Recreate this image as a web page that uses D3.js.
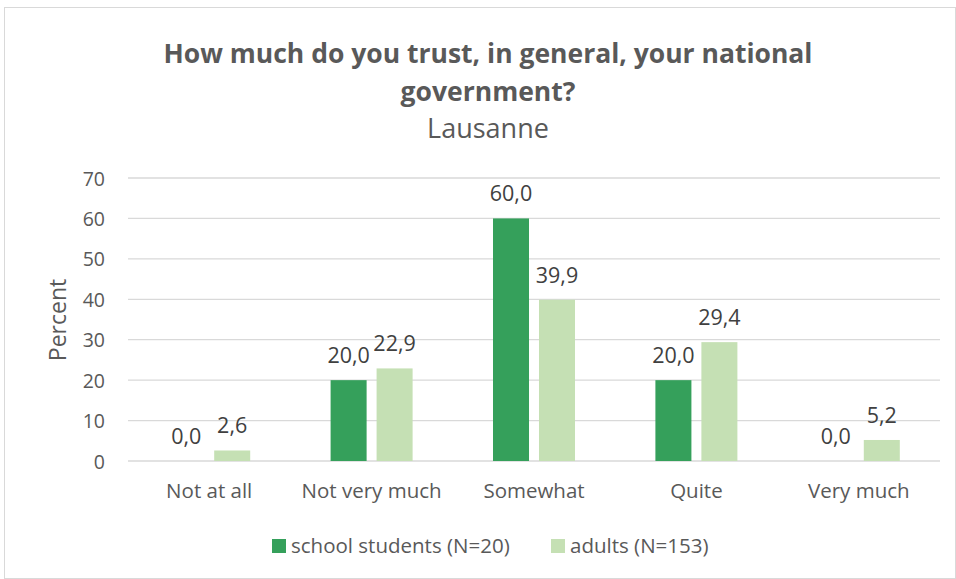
<!DOCTYPE html>
<html><head><meta charset="utf-8">
<script src="https://cdnjs.cloudflare.com/ajax/libs/d3/7.8.5/d3.min.js"></script>
<style>body{margin:0;background:#fff}svg{display:block}</style>
</head><body>
<script>
const categories = ["Not at all", "Not very much", "Somewhat", "Quite", "Very much"];
const seriesNames = ["school students (N=20)", "adults (N=153)"];
const students = [0.0, 20.0, 60.0, 20.0, 0.0];
const adults = [2.6, 22.9, 39.9, 29.4, 5.2];
const yTicks = [0, 10, 20, 30, 40, 50, 60, 70];
const colors = ["#35a05b", "#c5e0b4"];
const titleLines = ["How much do you trust, in general, your national", "government?"];
const subtitle = "Lausanne";
const yLabel = "Percent";

const W = 956, H = 579;
const font = "'Open Sans', sans-serif";
const svg = d3.select("body").append("svg").attr("width", W).attr("height", H);
svg.append("rect").attr("x", 4.5).attr("y", 7.5).attr("width", W - 5).attr("height", H - 8)
  .attr("fill", "#fff").attr("stroke", "#d9d9d9");

const m = {left: 128, right: 940, top: 178, bottom: 461};
const x0 = d3.scaleBand().domain(categories).range([m.left, m.right]).padding(0);
const x1 = d3.scaleBand().domain([0, 1]).range([0, x0.bandwidth()]).paddingInner(0.217).paddingOuter(0.874);
const y = d3.scaleLinear().domain([0, 70]).range([m.bottom, m.top]);

// gridlines
svg.append("g").selectAll("line").data(yTicks).join("line")
  .attr("x1", m.left).attr("x2", m.right)
  .attr("y1", d => y(d)).attr("y2", d => y(d))
  .attr("stroke", "#d9d9d9").attr("stroke-width", 1.3);

// y axis labels
const yAxis = d3.axisLeft(y).tickValues(yTicks).tickSize(0).tickPadding(0);
const gy = svg.append("g").attr("transform", `translate(${m.left - 23},0)`).call(yAxis);
gy.select(".domain").remove();
gy.selectAll("text").attr("font-family", font).attr("font-size", 19.5).attr("fill", "#595959").attr("dy", "0.36em");

// x axis labels
const xAxis = d3.axisBottom(x0).tickSize(0).tickPadding(0);
const gx = svg.append("g").attr("transform", `translate(0,498)`).call(xAxis);
gx.select(".domain").remove();
gx.selectAll("text").attr("font-family", font).attr("font-size", 20.5).attr("fill", "#595959").attr("y", 0).attr("dy", 0);

const series = [students, adults];
const data = [];
categories.forEach((c, i) => series.forEach((s, j) => data.push({c, j, v: s[i]})));

svg.append("g").selectAll("rect").data(data).join("rect")
  .attr("x", d => x0(d.c) + x1(d.j))
  .attr("width", x1.bandwidth())
  .attr("y", d => y(d.v))
  .attr("height", d => y(0) - y(d.v))
  .attr("fill", d => colors[d.j]);

svg.append("g").selectAll("text").data(data).join("text")
  .attr("x", d => x0(d.c) + x1(d.j) + x1.bandwidth() / 2)
  .attr("y", d => y(d.v) - 17)
  .attr("text-anchor", "middle")
  .attr("font-family", font).attr("font-size", 21.5).attr("fill", "#404040")
  .text(d => d.v.toFixed(1).replace(".", ","));

// titles
svg.append("text").attr("x", 488).attr("y", 63).attr("text-anchor", "middle")
  .attr("font-family", font).attr("font-weight", "bold").attr("font-size", 26.5).attr("fill", "#595959")
  .text(titleLines[0]);
svg.append("text").attr("x", 488).attr("y", 101).attr("text-anchor", "middle")
  .attr("font-family", font).attr("font-weight", "bold").attr("font-size", 26.5).attr("fill", "#595959")
  .text(titleLines[1]);
svg.append("text").attr("x", 488).attr("y", 138).attr("text-anchor", "middle")
  .attr("font-family", font).attr("font-size", 27).attr("fill", "#595959")
  .text(subtitle);

// y label
svg.append("text").attr("transform", `translate(66,320) rotate(-90)`).attr("text-anchor", "middle")
  .attr("font-family", font).attr("font-size", 23).attr("fill", "#595959").text(yLabel);

// legend
const legendX = [272, 551];
const lg = svg.append("g").selectAll("g").data(seriesNames).join("g")
  .attr("transform", (d, i) => `translate(${legendX[i]},539)`);
lg.append("rect").attr("width", 14).attr("height", 14).attr("fill", (d, i) => colors[i]);
lg.append("text").attr("x", 19).attr("y", 14).attr("font-family", font).attr("font-size", 20.5)
  .attr("fill", "#595959").text(d => d);
</script>
</body></html>
